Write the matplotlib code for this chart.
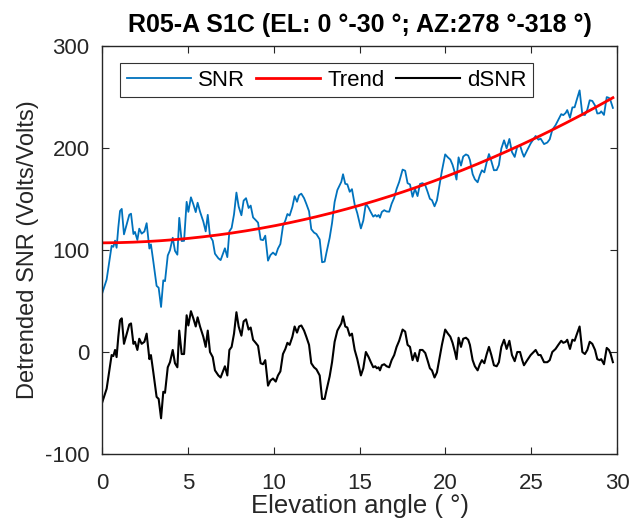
import numpy as np
import matplotlib
matplotlib.use("Agg")
import matplotlib.pyplot as plt

plt.rcParams['font.family'] = ['Liberation Sans', 'DejaVu Sans']
plt.rcParams['axes.unicode_minus'] = False

# Elevation angle samples (deg) and detrended SNR
elevation = [
    0.02, 0.27, 0.47, 0.56, 0.66, 0.76, 0.85, 0.95, 1.05, 1.15, 1.28, 1.44, 1.59, 1.69, 1.83,
    1.92, 2.06, 2.17, 2.31, 2.47, 2.60, 2.76, 2.85, 2.99, 3.18, 3.30, 3.44, 3.57, 3.67, 3.83,
    3.96, 4.12, 4.25, 4.39, 4.50, 4.64, 4.78, 4.93, 5.03, 5.18, 5.32, 5.46, 5.57, 5.71, 5.90,
    6.04, 6.16, 6.29, 6.45, 6.58, 6.78, 6.91, 7.16, 7.30, 7.42, 7.55,
    7.69, 7.83, 7.96, 8.12, 8.25, 8.39, 8.54, 8.66, 8.80, 8.95, 9.09, 9.24, 9.38, 9.51, 9.67,
    9.81, 9.96, 10.12, 10.25, 10.39, 10.54, 10.68, 10.80, 10.93, 11.09, 11.22, 11.36, 11.48,
    11.61, 11.77, 11.90, 12.06, 12.19, 12.35, 12.49, 12.68, 12.82, 12.97, 13.07, 13.26, 13.40,
    13.55, 13.71, 13.84, 13.94, 14.04, 14.17, 14.29, 14.43, 14.56, 14.72, 14.87,
    15.08, 15.22, 15.37, 15.53, 15.66, 15.80, 15.92, 16.01, 16.11, 16.19, 16.30, 16.44, 16.58,
    16.73, 16.87, 17.02, 17.16, 17.31, 17.51, 17.66, 17.80, 17.94, 18.09, 18.23, 18.38, 18.52,
    18.67, 18.83, 18.96, 19.10, 19.22, 19.37, 19.51, 19.64, 19.80, 19.99, 20.15, 20.29, 20.42,
    20.56, 20.65, 20.77, 20.91, 21.04, 21.20, 21.33, 21.43, 21.59, 21.72, 21.88, 22.01, 22.13,
    22.27,
    22.41, 22.54, 22.68, 22.83, 22.99, 23.12, 23.26, 23.42, 23.57, 23.73, 23.88, 24.04, 24.19,
    24.35, 24.48, 24.58, 24.77, 24.97, 25.26, 25.42, 25.55, 25.75, 25.94, 26.08, 26.23, 26.42,
    26.58, 26.75, 26.87, 27.01, 27.10, 27.26, 27.40, 27.53, 27.65, 27.82, 27.98, 28.13, 28.27,
    28.41, 28.56, 28.72, 28.85, 28.99, 29.08, 29.24, 29.40, 29.53, 29.63, 29.76,
]
dsnr = [
    -49, -36, -13, -3, -4, 2, -5, 15, 31, 33, 8, 18, 27, 28, 8,
    10, 2, 13, 8, 10, 18, -7, -3, -20, -44, -46, -65, -39, -40, -15,
    -10, 2, -11, -15, 21, -2, -2, 36, 26, 40, 33, 25, 34, 25, 15,
    5, 21, 0, -5, -18, -23, -25, -14, -23, 2, 5,
    18, 39, 25, 16, 30, 32, 22, 24, 12, 9, 6, -11, -12, -8, -33,
    -28, -26, -29, -23, -19, -2, 3, 9, 7, 15, 25, 19, 25,
    26, 21, 15, 7, -11, -15, -17, -23, -46, -46, -38, -24, -10,
    10, 21, 25, 28, 35, 25, 24, 16, 18, 2, -7,
    -23, -16, 0, -5, -10, -15, -14, -16, -15, -18, -13, -12, -14,
    -15, -8, -3, 5, 11, 22, 20, 7, 5, -8, -1, -9, 2,
    2, -1, -8, -16, -18, -25, -20, -8, 7, 22, 18, 15, 9,
    0, -7, 14, 5, 13, 14, 12, 7, -8, -14, -18, -12, -8,
    -11,
    -2, 5, -3, -13, -14, -10, 5, 12, 3, 11, -3, -9, 0,
    0, -8, -13, -8, -3, 2, -3, -3, -10, -10, -8, 0, 3,
    7, 11, 9, 10, 12, 3, 12, 11, 17, 25, 0, -2, 2,
    10, 8, 2, -7, -8, -7, -12, 4, 2, -2, -10,
]
# Quadratic trend fitted to the SNR (highest power first)
trend_coeffs = [0.158, 0.08, 107.0]

series_labels = ["SNR", "Trend", "dSNR"]
x_ticks = [0, 5, 10, 15, 20, 25, 30]
y_ticks = [-100, 0, 100, 200, 300]

elev = np.array(elevation)
trend = np.polyval(trend_coeffs, elev)
snr = trend + np.array(dsnr)

fig = plt.figure(figsize=(6.32, 5.24), dpi=100)
ax = fig.add_axes([0.1614, 0.1336, 0.8149, 0.7786])

ax.plot(elev, snr, color='#0072BD', lw=1.3, label=series_labels[0])
ax.plot(elev, trend, color='#FF0000', lw=2.0, label=series_labels[1])
ax.plot(elev, dsnr, color='black', lw=1.5, label=series_labels[2])

ax.set_xlim(0, 30)
ax.set_ylim(-100, 300)
ax.set_xticks(x_ticks)
ax.set_yticks(y_ticks)

edge = '#262626'
for s in ax.spines.values():
    s.set_color(edge)
    s.set_linewidth(1.0)
ax.tick_params(direction='in', length=5, width=0.8, colors=edge, labelsize=16,
               top=True, right=True)
ax.tick_params(axis='x', pad=13.5)
ax.tick_params(axis='y', pad=9)
for lab in ax.get_xticklabels() + ax.get_yticklabels():
    lab.set_color(edge)

ax.set_xlabel("Elevation angle ( °)", fontsize=18.5, color=edge, labelpad=0)
ax.set_ylabel("Detrended SNR (Volts/Volts)", fontsize=17, color=edge, labelpad=4)
ax.set_title("R05-A S1C (EL: 0 °-30 °; AZ:278 °-318 °)",
             fontsize=18, fontweight='bold', pad=10)

leg = ax.legend(loc='upper left', ncol=3, fontsize=16, frameon=True, fancybox=False,
                edgecolor='black', handlelength=2.9, columnspacing=0.5, handletextpad=0.3,
                borderpad=0.3, borderaxespad=0.0, bbox_to_anchor=(0.035, 0.958))
leg.get_frame().set_linewidth(0.8)

fig.savefig("out.png", dpi=100)
